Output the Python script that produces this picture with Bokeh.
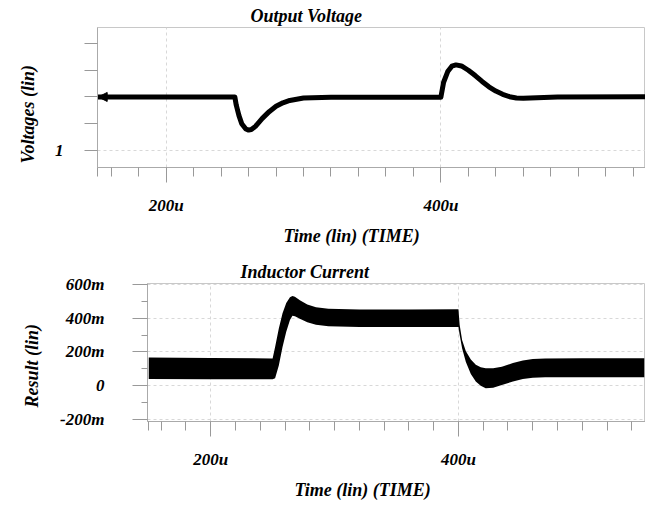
from bokeh.plotting import figure
from bokeh.layouts import column
from bokeh.models import FixedTicker, Arrow, NormalHead, ColumnDataSource, Title
from bokeh.embed import file_html
from bokeh.resources import INLINE

# ---------------- data ----------------
# Output voltage (time in us, volts)
t_v = [150, 250, 251, 253, 255, 258, 260, 262, 265, 270, 275, 280, 285, 290, 300, 320,
       400, 402, 405, 408, 411, 415, 420, 425, 430, 435, 440, 445, 450, 455, 460, 470, 485, 550]
v_out = [1.200, 1.200, 1.17, 1.13, 1.10, 1.08, 1.076, 1.078, 1.09, 1.12, 1.145, 1.165, 1.178, 1.187, 1.196, 1.199,
         1.199, 1.255, 1.295, 1.315, 1.320, 1.316, 1.300, 1.280, 1.258, 1.238, 1.222, 1.210, 1.201, 1.196, 1.195, 1.197, 1.200, 1.201]

# Inductor current ripple envelope (time in us, current in mA)
t_i = [150, 200, 249, 250, 252, 255, 258, 261, 264, 266, 268, 272, 278, 285, 295, 320, 360, 399, 400, 401,
       403, 406, 410, 414, 418, 422, 428, 435, 444, 452, 460, 470, 500, 550]
i_upper = [168, 165, 162, 162, 230, 340, 430, 490, 525, 532, 527, 507, 482, 465, 456, 452, 452, 453, 453, 360,
           270, 205, 155, 125, 110, 103, 104, 112, 135, 150, 158, 162, 163, 163]
i_lower = [40, 38, 38, 38, 45, 120, 230, 320, 390, 415, 412, 397, 377, 362, 352, 348, 348, 348, 348, 300,
           220, 140, 70, 25, 0, -15, -12, 5, 25, 40, 48, 50, 50, 50]

x_major = [200, 400]
x_labels = {200: "200u", 400: "400u"}
x_minor = [150, 160, 180, 220, 240, 260, 280, 300, 320, 340, 360, 380, 420, 440, 460, 480, 500, 520, 540]

v_major = [1.0]
v_minor = [1.1, 1.2, 1.3, 1.4]
v_labels = {1: "1"}

i_major = [-200, 0, 200, 400, 600]
i_minor = [-100, 100, 300, 500]
i_labels = {600: "600m", 400: "400m", 200: "200m", 0: "0", -200: "-200m"}

FONT = "Liberation Serif"
W = 645


def style(p, xmaj, xmin_, xl, ymaj, ymin_, yl, ytick_out, yminor_out, ystand):
    p.outline_line_color = "#c8c8c8"
    p.outline_line_width = 1
    p.title.text_font = FONT
    p.title.text_font_style = "bold italic"
    p.title.text_font_size = "18px"
    p.title.align = "left"
    p.title.standoff = 3
    p.title.text_color = "black"

    xa = p.xaxis[0]
    xa.ticker = FixedTicker(ticks=xmaj, minor_ticks=xmin_)
    xa.major_label_overrides = xl
    ya = p.yaxis[0]
    ya.ticker = FixedTicker(ticks=ymaj, minor_ticks=ymin_)
    ya.major_label_overrides = yl
    for a in (xa, ya):
        a.axis_line_color = "#aaaaaa"
        a.major_tick_line_color = "#999999"
        a.minor_tick_line_color = "#999999"
        a.major_tick_in = 0
        a.minor_tick_in = 0
        a.major_label_text_font = FONT
        a.major_label_text_font_style = "bold italic"
        a.major_label_text_font_size = "17px"
        a.major_label_text_color = "black"
    xa.major_tick_out = 15
    xa.minor_tick_out = 9
    xa.major_label_standoff = 13
    ya.major_tick_out = ytick_out
    ya.minor_tick_out = yminor_out
    ya.major_label_standoff = ystand

    for g in (p.xgrid[0], p.ygrid[0]):
        g.grid_line_color = "#d8d8d8"
        g.grid_line_dash = "3 3"
        g.grid_line_width = 1
    p.xgrid[0].ticker = FixedTicker(ticks=xmaj)
    p.ygrid[0].ticker = FixedTicker(ticks=ymaj)


def axis_titles(p, xlab, xoff, xstand, ylab, yoff, ystand):
    common = dict(text_font=FONT, text_font_style="bold italic", text_font_size="18px",
                  text_color="black", align="left")
    p.add_layout(Title(text=xlab, offset=xoff, standoff=xstand, **common), "below")
    p.add_layout(Title(text=ylab, offset=yoff, standoff=ystand, **common), "left")


# ---------------- top: output voltage ----------------
p1 = figure(width=W, height=252, x_range=(150, 549), y_range=(0.936, 1.46),
            output_backend="svg", toolbar_location=None, title="Output Voltage",
            min_border_left=97, min_border_right=0, min_border_top=27, min_border_bottom=85)
style(p1, x_major, x_minor, x_labels, v_major, v_minor, v_labels, 13, 13, 21)
p1.title.offset = 153
p1.yaxis[0].major_label_text_baseline = "top"
axis_titles(p1, "Time (lin) (TIME)", 186, 12, "Voltages (lin)", 4, 27)
p1.line(t_v, v_out, line_color="black", line_width=5, line_join="round")
p1.add_layout(Arrow(end=NormalHead(size=9, fill_color="black", line_color="black", line_width=1),
                    x_start=t_v[0] + 4, y_start=v_out[0], x_end=t_v[0] + 0.5, y_end=v_out[0],
                    line_color="black", line_width=4))

# ---------------- bottom: inductor current ----------------
src = ColumnDataSource(dict(t=t_i, hi=i_upper, lo=i_lower))
p2 = figure(width=W, height=254, x_range=(149, 551), y_range=(-212, 606),
            output_backend="svg", toolbar_location=None, title="Inductor Current",
            min_border_left=147, min_border_right=0, min_border_top=31, min_border_bottom=85)
style(p2, x_major, x_minor, x_labels, i_major, i_minor, i_labels, 15, 6, 28)
p2.title.offset = 93
axis_titles(p2, "Time (lin) (TIME)", 147, 12, "Result (lin)", 14, 32)
p2.varea(x="t", y1="lo", y2="hi", source=src, fill_color="black")

layout = column(column(p1), column(p2), spacing=0)
open("out.html", "w").write(file_html(layout, INLINE))
